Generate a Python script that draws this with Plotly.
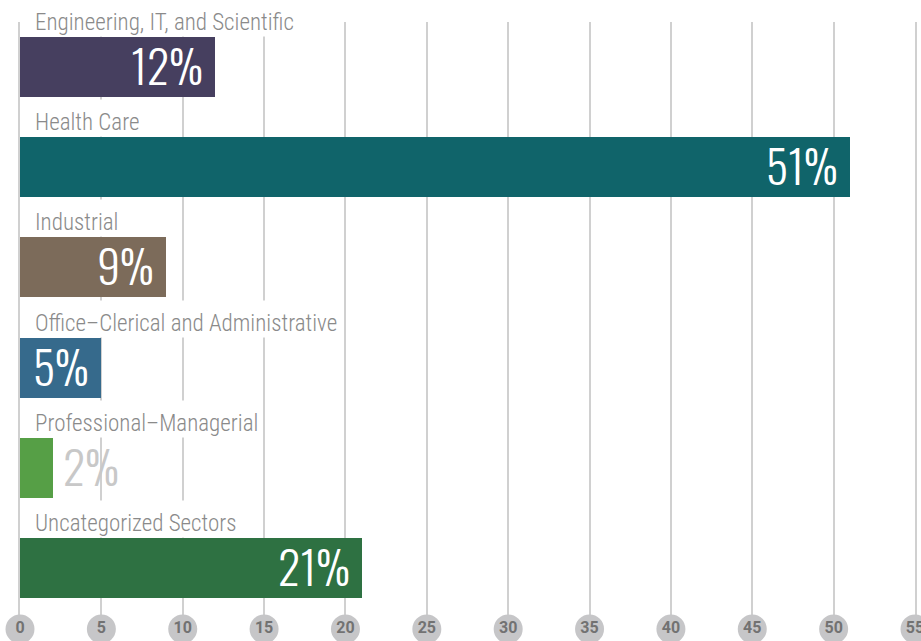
import plotly.graph_objects as go

categories = ["Engineering, IT, and Scientific", "Health Care", "Industrial",
              "Office\u2013Clerical and Administrative", "Professional\u2013Managerial",
              "Uncategorized Sectors"]
values = [12, 51, 9, 5, 2, 21]
value_labels = ["12%", "51%", "9%", "5%", "2%", "21%"]
colors = ["#463f5f", "#10646a", "#7c6b5a", "#366a8c", "#569f46", "#2e7142"]
tick_vals = [0, 5, 10, 15, 20, 25, 30, 35, 40, 45, 50, 55]

ypos = list(range(len(categories)))

fig = go.Figure()
fig.add_trace(go.Bar(
    x=values, y=ypos, orientation="h", width=0.6,
    marker=dict(color=colors, line=dict(width=0)),
    hoverinfo="skip",
))

# round tick markers along the bottom
fig.add_trace(go.Scatter(
    x=tick_vals, y=[5.61] * len(tick_vals), mode="markers+text",
    marker=dict(size=29, color="#c6c6c8", line=dict(width=0)),
    text=[str(t) for t in tick_vals], textposition="middle center",
    textfont=dict(family="Roboto, Liberation Sans, sans-serif", size=16, color="#727272", weight="bold"),
    cliponaxis=False, hoverinfo="skip",
))

annotations = []
for i, (cat, v, lab) in enumerate(zip(categories, values, value_labels)):
    annotations.append(dict(
        x=0, y=i, xref="x", yref="y", text=cat, showarrow=False,
        xanchor="left", yanchor="middle", xshift=14, yshift=49,
        height=36, valign="bottom", bgcolor="white", borderpad=0,
        font=dict(family="Roboto Condensed", size=23, color="#8a8a8a", weight=300),
    ))
    inside = v >= 5
    annotations.append(dict(
        x=v, y=i, xref="x", yref="y", text=lab, showarrow=False,
        xanchor="right" if inside else "left", yanchor="middle",
        xshift=-10 if inside else 8, yshift=3,
        font=dict(family="Oswald", size=46, weight=300,
                  color="white" if inside else "#c8c8c8"),
    ))

fig.update_layout(
    width=921, height=641,
    margin=dict(l=20, r=6, t=22, b=0),
    paper_bgcolor="white", plot_bgcolor="white",
    showlegend=False,
    bargap=0,
    annotations=annotations,
    xaxis=dict(range=[0, 55], tickvals=tick_vals, showticklabels=False,
               showgrid=True, gridcolor="#d0d0d0", gridwidth=2,
               zeroline=False, showline=False, ticks="", fixedrange=True),
    yaxis=dict(range=[5.729, -0.449], showticklabels=False, showgrid=False,
               zeroline=False, showline=True, mirror=True, linecolor="#d0d0d0", linewidth=2,
               layer="below traces", ticks="", fixedrange=True),
)

fig.write_html("out.html")
